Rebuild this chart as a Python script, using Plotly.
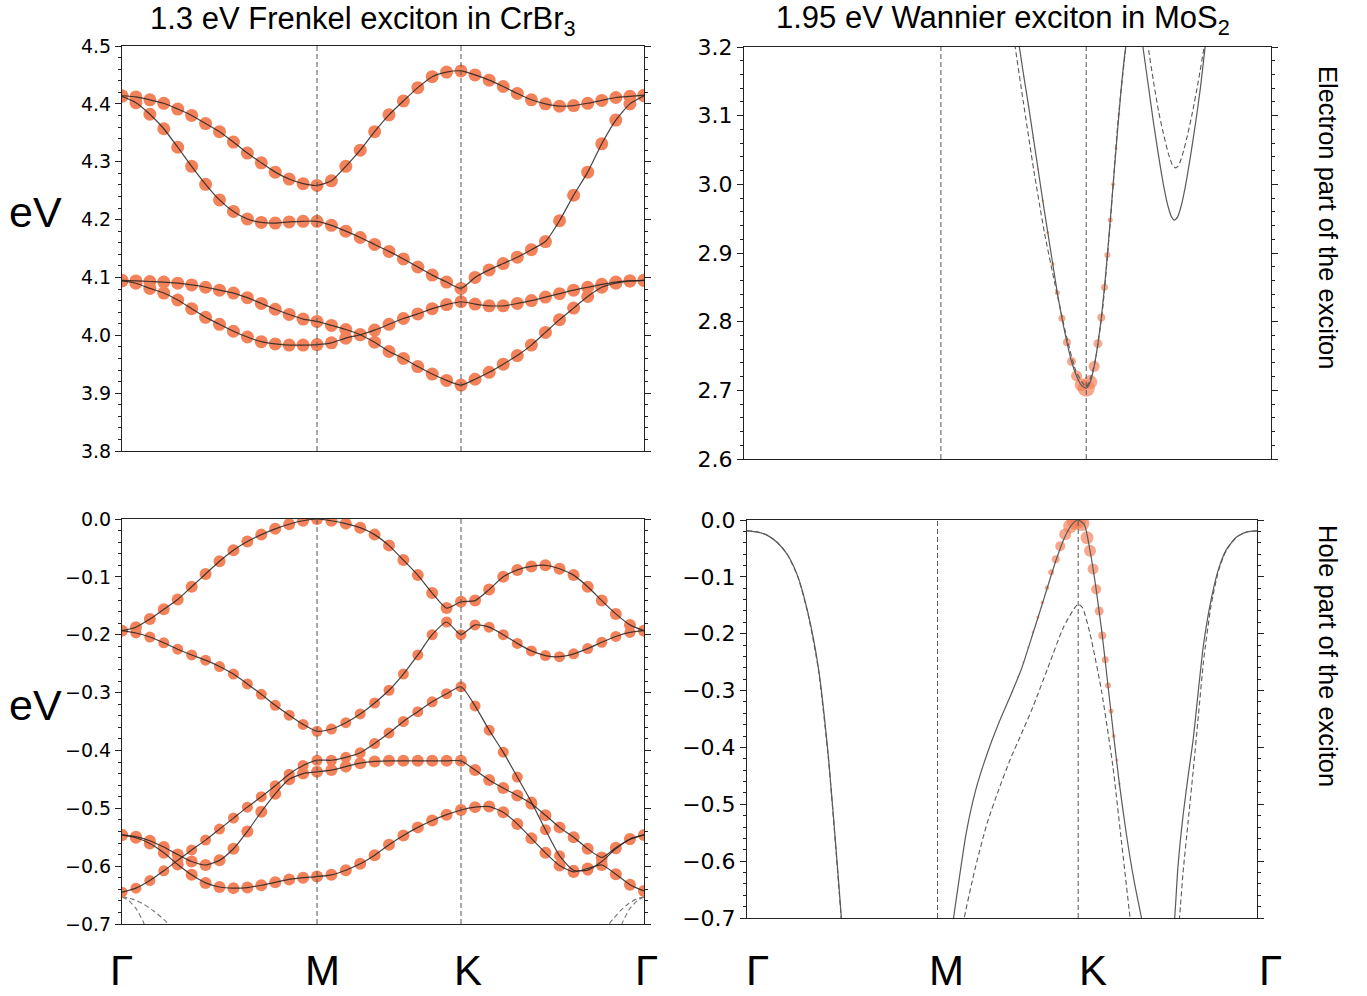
import numpy as np
import plotly.graph_objects as go

# ---------------- k-path ----------------
K_M, K_K = 0.3736, 0.6494
k_path = np.concatenate([np.linspace(0.0, K_M, 15),
                         np.linspace(K_M, K_K, 11)[1:],
                         np.linspace(K_K, 1.0, 14)[1:]])
path_labels = ["Γ", "M", "K", "Γ"]

# ---------------- CrBr3 : electron part (eV) ----------------
crbr3_e_A = [4.414, 4.412, 4.407, 4.401, 4.391, 4.380, 4.366, 4.352, 4.334, 4.315, 4.298, 4.282, 4.270, 4.262, 4.259,
             4.267, 4.292, 4.320, 4.352, 4.381, 4.405, 4.428, 4.447, 4.455, 4.457,
             4.450, 4.441, 4.430, 4.418, 4.407, 4.400, 4.396, 4.397, 4.401, 4.406, 4.411, 4.413, 4.415]
crbr3_e_B = [4.413, 4.402, 4.382, 4.357, 4.325, 4.292, 4.261, 4.234, 4.214, 4.201, 4.195, 4.194, 4.196, 4.197, 4.197,
             4.190, 4.180, 4.169, 4.157, 4.145, 4.132, 4.118, 4.104, 4.092, 4.081,
             4.100, 4.113, 4.124, 4.135, 4.148, 4.162, 4.198, 4.242, 4.282, 4.331, 4.372, 4.400, 4.414]
crbr3_e_C = [4.095, 4.094, 4.093, 4.092, 4.090, 4.087, 4.083, 4.078, 4.073, 4.065, 4.055, 4.045, 4.036, 4.028, 4.024,
             4.017, 4.010, 4.001, 3.988, 3.972, 3.960, 3.946, 3.933, 3.922, 3.914,
             3.924, 3.936, 3.950, 3.965, 3.983, 4.005, 4.027, 4.047, 4.067, 4.083, 4.090, 4.094, 4.095]
crbr3_e_D = [4.094, 4.090, 4.081, 4.073, 4.061, 4.046, 4.031, 4.019, 4.007, 3.997, 3.989, 3.985, 3.983, 3.983, 3.984,
             3.987, 3.995, 4.001, 4.009, 4.019, 4.029, 4.037, 4.046, 4.053, 4.058,
             4.054, 4.051, 4.051, 4.055, 4.060, 4.066, 4.072, 4.078, 4.083, 4.088, 4.092, 4.094, 4.095]

# ---------------- CrBr3 : hole part (eV) ----------------
crbr3_h_1 = [-0.193, -0.187, -0.173, -0.156, -0.139, -0.117, -0.095, -0.073, -0.054, -0.039, -0.027, -0.017, -0.009, -0.003, 0.000,
             -0.003, -0.008, -0.015, -0.027, -0.046, -0.071, -0.097, -0.128, -0.154, -0.143,
             -0.141, -0.122, -0.100, -0.088, -0.082, -0.080, -0.086, -0.097, -0.117, -0.141, -0.164, -0.183, -0.193]
crbr3_h_2 = [-0.193, -0.197, -0.204, -0.214, -0.225, -0.235, -0.244, -0.255, -0.268, -0.285, -0.303, -0.322, -0.339, -0.355, -0.367,
             -0.363, -0.352, -0.337, -0.318, -0.296, -0.268, -0.235, -0.200, -0.178, -0.200,
             -0.183, -0.187, -0.200, -0.215, -0.228, -0.236, -0.238, -0.233, -0.224, -0.213, -0.203, -0.196, -0.193]
crbr3_h_3 = [-0.645, -0.638, -0.625, -0.608, -0.590, -0.572, -0.555, -0.536, -0.517, -0.498, -0.480, -0.461, -0.441, -0.426, -0.417,
             -0.417, -0.412, -0.404, -0.388, -0.370, -0.350, -0.333, -0.316, -0.302, -0.290,
             -0.323, -0.365, -0.403, -0.446, -0.489, -0.537, -0.582, -0.607, -0.607, -0.592, -0.570, -0.554, -0.546]
crbr3_h_4 = [-0.546, -0.549, -0.556, -0.567, -0.580, -0.592, -0.598, -0.590, -0.570, -0.540, -0.506, -0.475, -0.450, -0.440, -0.437,
             -0.434, -0.428, -0.422, -0.419, -0.418, -0.418, -0.418, -0.418, -0.418, -0.418,
             -0.434, -0.451, -0.465, -0.478, -0.492, -0.512, -0.533, -0.550, -0.570, -0.585, -0.568, -0.553, -0.546]
crbr3_h_5 = [-0.546, -0.551, -0.561, -0.577, -0.597, -0.615, -0.629, -0.636, -0.638, -0.637, -0.633, -0.628, -0.623, -0.620, -0.618,
             -0.615, -0.607, -0.596, -0.581, -0.563, -0.547, -0.533, -0.521, -0.511, -0.503,
             -0.498, -0.497, -0.507, -0.527, -0.552, -0.577, -0.599, -0.610, -0.604, -0.598, -0.614, -0.632, -0.643]
# other (non-excitonic) bands near Γ, dashed
crbr3_o1_k = [0.0, 0.0133, 0.0267, 0.040, 0.053]
crbr3_o1_E = [-0.653, -0.660, -0.673, -0.695, -0.725]
crbr3_o2_k = [0.0, 0.02, 0.04, 0.06, 0.08, 0.10]
crbr3_o2_E = [-0.653, -0.657, -0.665, -0.677, -0.692, -0.710]
crbr3_o3_k = [1.0, 0.985, 0.97, 0.955, 0.94, 0.925]
crbr3_o3_E = [-0.653, -0.657, -0.665, -0.677, -0.692, -0.710]
crbr3_o4_k = [1.0, 0.987, 0.973, 0.96, 0.947]
crbr3_o4_E = [-0.653, -0.660, -0.673, -0.695, -0.725]

# ---------------- MoS2 : electron part ----------------
mos2_cb_k = [0.514, 0.5225, 0.531, 0.540, 0.549, 0.558, 0.567, 0.5764, 0.5859, 0.5946, 0.6033, 0.6128, 0.6215, 0.631,
             0.6397, 0.6494, 0.657, 0.6645, 0.6715, 0.678, 0.684, 0.6895, 0.695, 0.7005, 0.706, 0.7115, 0.717, 0.7225,
             0.7245, 0.729]
mos2_cb_E = [3.25, 3.2, 3.157, 3.114, 3.068, 3.022, 2.976, 2.930, 2.884, 2.842, 2.805, 2.770, 2.742, 2.721,
             2.708, 2.703, 2.712, 2.735, 2.768, 2.806, 2.850, 2.897, 2.948, 3.000, 3.052, 3.102, 3.150, 3.190,
             3.2, 3.23]
mos2_cbd_k = [0.506, 0.5146, 0.530, 0.550, 0.570, 0.590, 0.610, 0.630, 0.6494, 0.665, 0.680, 0.695, 0.710, 0.7245, 0.729]
mos2_cbd_E = [3.25, 3.2, 3.12, 3.02, 2.93, 2.855, 2.785, 2.728, 2.705, 2.738, 2.815, 2.945, 3.095, 3.2, 3.23]
mos2_cb2_k = [0.752, 0.757, 0.767, 0.777, 0.787, 0.797, 0.805, 0.811, 0.8166, 0.823, 0.829, 0.837, 0.847, 0.857,
              0.866, 0.875, 0.880]
mos2_cb2_E = [3.23, 3.2, 3.145, 3.09, 3.04, 2.995, 2.967, 2.953, 2.948, 2.953, 2.967, 2.995, 3.04, 3.09,
              3.14, 3.2, 3.23]
mos2_cb2d_k = [0.762, 0.767, 0.777, 0.787, 0.797, 0.806, 0.813, 0.8188, 0.825, 0.832, 0.841, 0.851, 0.862, 0.873, 0.878]
mos2_cb2d_E = [3.23, 3.2, 3.15, 3.105, 3.07, 3.043, 3.028, 3.024, 3.028, 3.043, 3.07, 3.105, 3.15, 3.2, 3.23]
mos2_e_wk = [0.531, 0.540, 0.549, 0.558, 0.567, 0.5764, 0.5859, 0.5946, 0.6033, 0.6128, 0.6215, 0.631, 0.6397,
             0.6494, 0.657, 0.6645, 0.6715, 0.678, 0.684, 0.6895, 0.695, 0.7005, 0.706, 0.7115, 0.717, 0.7225]
mos2_e_wE = [3.157, 3.114, 3.068, 3.022, 2.976, 2.930, 2.884, 2.842, 2.805, 2.770, 2.742, 2.721, 2.708,
             2.703, 2.712, 2.735, 2.768, 2.806, 2.850, 2.897, 2.948, 3.000, 3.052, 3.102, 3.150, 3.190]
mos2_e_weight = [1.5, 1.5, 2, 2, 2.5, 3, 4, 5, 7, 8, 9, 11, 13,
                 17, 14, 11, 9, 8, 7, 6, 5, 4, 3, 2.5, 2, 1.5]

# ---------------- MoS2 : hole part ----------------
mos2_vgl_k = [0.0, 0.02, 0.04, 0.06, 0.08, 0.10, 0.12, 0.14, 0.16, 0.18, 0.19]
mos2_vgl_E = [-0.019, -0.021, -0.027, -0.040, -0.062, -0.100, -0.165, -0.260, -0.420, -0.640, -0.760]
mos2_vgld_k = [0.0, 0.02, 0.04, 0.06, 0.08, 0.10, 0.12, 0.14, 0.16, 0.18, 0.19]
mos2_vgld_E = [-0.019, -0.021, -0.027, -0.040, -0.062, -0.101, -0.167, -0.263, -0.424, -0.645, -0.765]
mos2_vgr_k = [0.832, 0.8386, 0.845, 0.855, 0.865, 0.875, 0.885, 0.895, 0.91, 0.925, 0.94, 0.96, 0.98, 1.0]
mos2_vgr_E = [-0.76, -0.70, -0.61, -0.52, -0.45, -0.385, -0.30, -0.22, -0.14, -0.085, -0.052, -0.030, -0.021, -0.019]
mos2_vgrd_k = [0.842, 0.848, 0.855, 0.865, 0.875, 0.885, 0.895, 0.91, 0.925, 0.94, 0.96, 0.98, 1.0]
mos2_vgrd_E = [-0.76, -0.70, -0.62, -0.53, -0.44, -0.345, -0.25, -0.15, -0.088, -0.053, -0.030, -0.021, -0.019]
mos2_vk_k = [0.400, 0.405, 0.4148, 0.4297, 0.4484, 0.4709, 0.4933, 0.5157, 0.5381, 0.5605, 0.583, 0.6054, 0.624,
             0.639, 0.6494, 0.6614, 0.6726, 0.6846, 0.6966, 0.7078, 0.719, 0.7302, 0.7436, 0.7586, 0.7735, 0.780]
mos2_vk_E = [-0.74, -0.700, -0.639, -0.551, -0.475, -0.411, -0.358, -0.311, -0.262, -0.200, -0.136, -0.072, -0.028,
             -0.006, 0.0, -0.008, -0.054, -0.122, -0.203, -0.291, -0.380, -0.464, -0.551, -0.633, -0.700, -0.73]
mos2_vkd_k = [0.420, 0.426, 0.4484, 0.4709, 0.4933, 0.5157, 0.5381, 0.5605, 0.5904, 0.6203, 0.6428, 0.6494, 0.6577,
              0.6726, 0.695, 0.7175, 0.7324, 0.7511, 0.756]
mos2_vkd_E = [-0.74, -0.700, -0.609, -0.533, -0.475, -0.422, -0.376, -0.329, -0.259, -0.189, -0.154, -0.148, -0.154,
              -0.200, -0.300, -0.434, -0.551, -0.700, -0.74]
mos2_h_wk = [0.5202, 0.5306, 0.5419, 0.5516, 0.5605, 0.5703, 0.5792, 0.5882, 0.5964, 0.6054, 0.6143, 0.624, 0.6338,
             0.6428, 0.6494, 0.6567, 0.6667, 0.6726, 0.6786, 0.6846, 0.6906, 0.6966, 0.7025, 0.7078, 0.7138, 0.719,
             0.725, 0.7302]
mos2_h_wE = [-0.303, -0.276, -0.250, -0.224, -0.197, -0.171, -0.145, -0.119, -0.092, -0.069, -0.046, -0.025, -0.011,
             -0.003, 0.0, -0.006, -0.031, -0.054, -0.086, -0.122, -0.160, -0.203, -0.246, -0.291, -0.336, -0.380,
             -0.422, -0.464]
mos2_h_weight = [1.5, 1.5, 2, 2, 2.5, 3, 3.5, 4.5, 6, 8, 10, 12, 14,
                 16, 17, 15, 13, 12, 11, 10, 9, 8, 7, 6, 5, 4, 3, 2.5]

# ---------------- styling ----------------
ORANGE = "rgb(243,130,90)"
BAND_LINE = "rgba(35,35,35,0.85)"
GREY = "#5a5a5a"
DASH = "5px,3px"
TICK_FONT = "DejaVu Sans"
TEXT_FONT = "Liberation Sans"
W, H = 1367, 996

fig = go.Figure()


def ax(n):
    return ("x" if n == 1 else f"x{n}"), ("y" if n == 1 else f"y{n}")


def markers(n, xs, ys, size):
    xa, ya = ax(n)
    fig.add_trace(go.Scatter(x=xs, y=ys, mode="markers", xaxis=xa, yaxis=ya, hoverinfo="skip",
                             marker=dict(color=ORANGE, size=size, line=dict(width=0))))


def line(n, xs, ys, color=BAND_LINE, width=1.2, dash="solid", smooth=0.6):
    xa, ya = ax(n)
    fig.add_trace(go.Scatter(x=xs, y=ys, mode="lines", xaxis=xa, yaxis=ya, hoverinfo="skip",
                             line=dict(color=color, width=width, dash=dash, shape="spline", smoothing=smooth)))


# panel 1 : CrBr3 electron
for b in (crbr3_e_A, crbr3_e_B, crbr3_e_C, crbr3_e_D):
    markers(1, k_path, b, 13)
for b in (crbr3_e_A, crbr3_e_B, crbr3_e_C, crbr3_e_D):
    line(1, k_path, b)

# panel 2 : CrBr3 hole
for ks, es in ((crbr3_o1_k, crbr3_o1_E), (crbr3_o2_k, crbr3_o2_E), (crbr3_o3_k, crbr3_o3_E), (crbr3_o4_k, crbr3_o4_E)):
    line(2, ks, es, color="#777", width=1.1, dash=DASH)
for b, s in ((crbr3_h_1, 12), (crbr3_h_2, 11), (crbr3_h_3, 11), (crbr3_h_4, 12), (crbr3_h_5, 12)):
    markers(2, k_path, b, s)
for b in (crbr3_h_1, crbr3_h_2, crbr3_h_3, crbr3_h_4, crbr3_h_5):
    line(2, k_path, b)

# panel 3 : MoS2 electron
markers(3, mos2_e_wk, mos2_e_wE, mos2_e_weight)
line(3, mos2_cbd_k, mos2_cbd_E, color=GREY, width=1.1, dash=DASH)
line(3, mos2_cb_k, mos2_cb_E, color=GREY, width=1.2)
line(3, mos2_cb2d_k, mos2_cb2d_E, color=GREY, width=1.1, dash=DASH)
line(3, mos2_cb2_k, mos2_cb2_E, color=GREY, width=1.2)

# panel 4 : MoS2 hole
markers(4, mos2_h_wk, mos2_h_wE, mos2_h_weight)
line(4, mos2_vgld_k, mos2_vgld_E, color=GREY, width=1.1, dash=DASH)
line(4, mos2_vgl_k, mos2_vgl_E, color=GREY, width=1.2)
line(4, mos2_vgrd_k, mos2_vgrd_E, color=GREY, width=1.1, dash=DASH)
line(4, mos2_vgr_k, mos2_vgr_E, color=GREY, width=1.2)
line(4, mos2_vkd_k, mos2_vkd_E, color=GREY, width=1.1, dash=DASH)
line(4, mos2_vk_k, mos2_vk_E, color=GREY, width=1.2)

# ---------------- axes / layout ----------------
def px_x(a, b):
    return [a / W, b / W]


def px_y(top, bottom):
    return [1 - bottom / H, 1 - top / H]


panels = {
    1: dict(xd=px_x(122, 644), yd=px_y(46, 451), yr=[3.8, 4.5], fs=19),
    2: dict(xd=px_x(122, 644), yd=px_y(519, 924), yr=[-0.7, 0.0], fs=19),
    3: dict(xd=px_x(744, 1271), yd=px_y(47, 459), yr=[2.6, 3.2], fs=22),
    4: dict(xd=px_x(747, 1257), yd=px_y(520, 918), yr=[-0.7, 0.0], fs=22),
}
lay = {}
shapes = []
for n, p in panels.items():
    xa, ya = ax(n)
    xkey = "xaxis" if n == 1 else f"xaxis{n}"
    ykey = "yaxis" if n == 1 else f"yaxis{n}"
    lay[xkey] = dict(domain=p["xd"], range=[0, 1], anchor=ya, showticklabels=False, ticks="", automargin=False,
                     showgrid=False, zeroline=False, showline=True, linecolor="#222", linewidth=1, mirror=True)
    lay[ykey] = dict(domain=p["yd"], range=p["yr"], anchor=xa, dtick=0.1, tick0=0, tickformat=".1f",
                     automargin=False,
                     showgrid=False, zeroline=False, showline=True, linecolor="#222", linewidth=1,
                     mirror="allticks", ticks="outside", ticklen=6, tickwidth=1, tickcolor="#222",
                     minor=dict(dtick=0.02, tick0=0, ticks="outside", ticklen=3, tickwidth=1, tickcolor="#222"),
                     tickfont=dict(family=TICK_FONT, size=p["fs"], color="black"))
    for kx in (K_M, K_K):
        shapes.append(dict(type="line", xref=xa, yref=f"{ya} domain", x0=kx, x1=kx, y0=0, y1=1,
                           line=dict(color="#555", width=1, dash=DASH), layer="above"))

TITLE_SIZE = 31
annotations = [
    dict(text="1.3 eV Frenkel exciton in CrBr<sub>3</sub>", x=363 / W, y=1 - 21 / H, xref="paper", yref="paper",
         showarrow=False, font=dict(family=TEXT_FONT, size=TITLE_SIZE, color="black"),
         xanchor="center", yanchor="middle"),
    dict(text="1.95 eV Wannier exciton in MoS<sub>2</sub>", x=1003 / W, y=1 - 20 / H, xref="paper", yref="paper",
         showarrow=False, font=dict(family=TEXT_FONT, size=TITLE_SIZE, color="black"),
         xanchor="center", yanchor="middle"),
    dict(text="eV", x=35 / W, y=1 - 212 / H, xref="paper", yref="paper", showarrow=False,
         font=dict(family=TEXT_FONT, size=43, color="black"), xanchor="center", yanchor="middle"),
    dict(text="eV", x=35 / W, y=1 - 705 / H, xref="paper", yref="paper", showarrow=False,
         font=dict(family=TEXT_FONT, size=43, color="black"), xanchor="center", yanchor="middle"),
    dict(text="Electron part of the exciton", x=1328 / W, y=1 - 217 / H, xref="paper", yref="paper",
         showarrow=False, textangle=90, font=dict(family=TEXT_FONT, size=25.5, color="black"),
         xanchor="center", yanchor="middle"),
    dict(text="Hole part of the exciton", x=1328 / W, y=1 - 656 / H, xref="paper", yref="paper",
         showarrow=False, textangle=90, font=dict(family=TEXT_FONT, size=25.5, color="black"),
         xanchor="center", yanchor="middle"),
]
label_px = [(122, 322, 468, 646), (757, 946, 1093, 1270)]
for row in label_px:
    for lab, xp in zip(path_labels, row):
        annotations.append(dict(text=lab, x=xp / W, y=1 - 970 / H, xref="paper", yref="paper", showarrow=False,
                                font=dict(family=TEXT_FONT, size=42, color="black"),
                                xanchor="center", yanchor="middle"))

fig.update_layout(width=W, height=H, margin=dict(l=0, r=0, t=0, b=0, autoexpand=False), paper_bgcolor="white",
                  plot_bgcolor="white", showlegend=False, shapes=shapes, annotations=annotations, **lay)

fig.write_html("out.html")
